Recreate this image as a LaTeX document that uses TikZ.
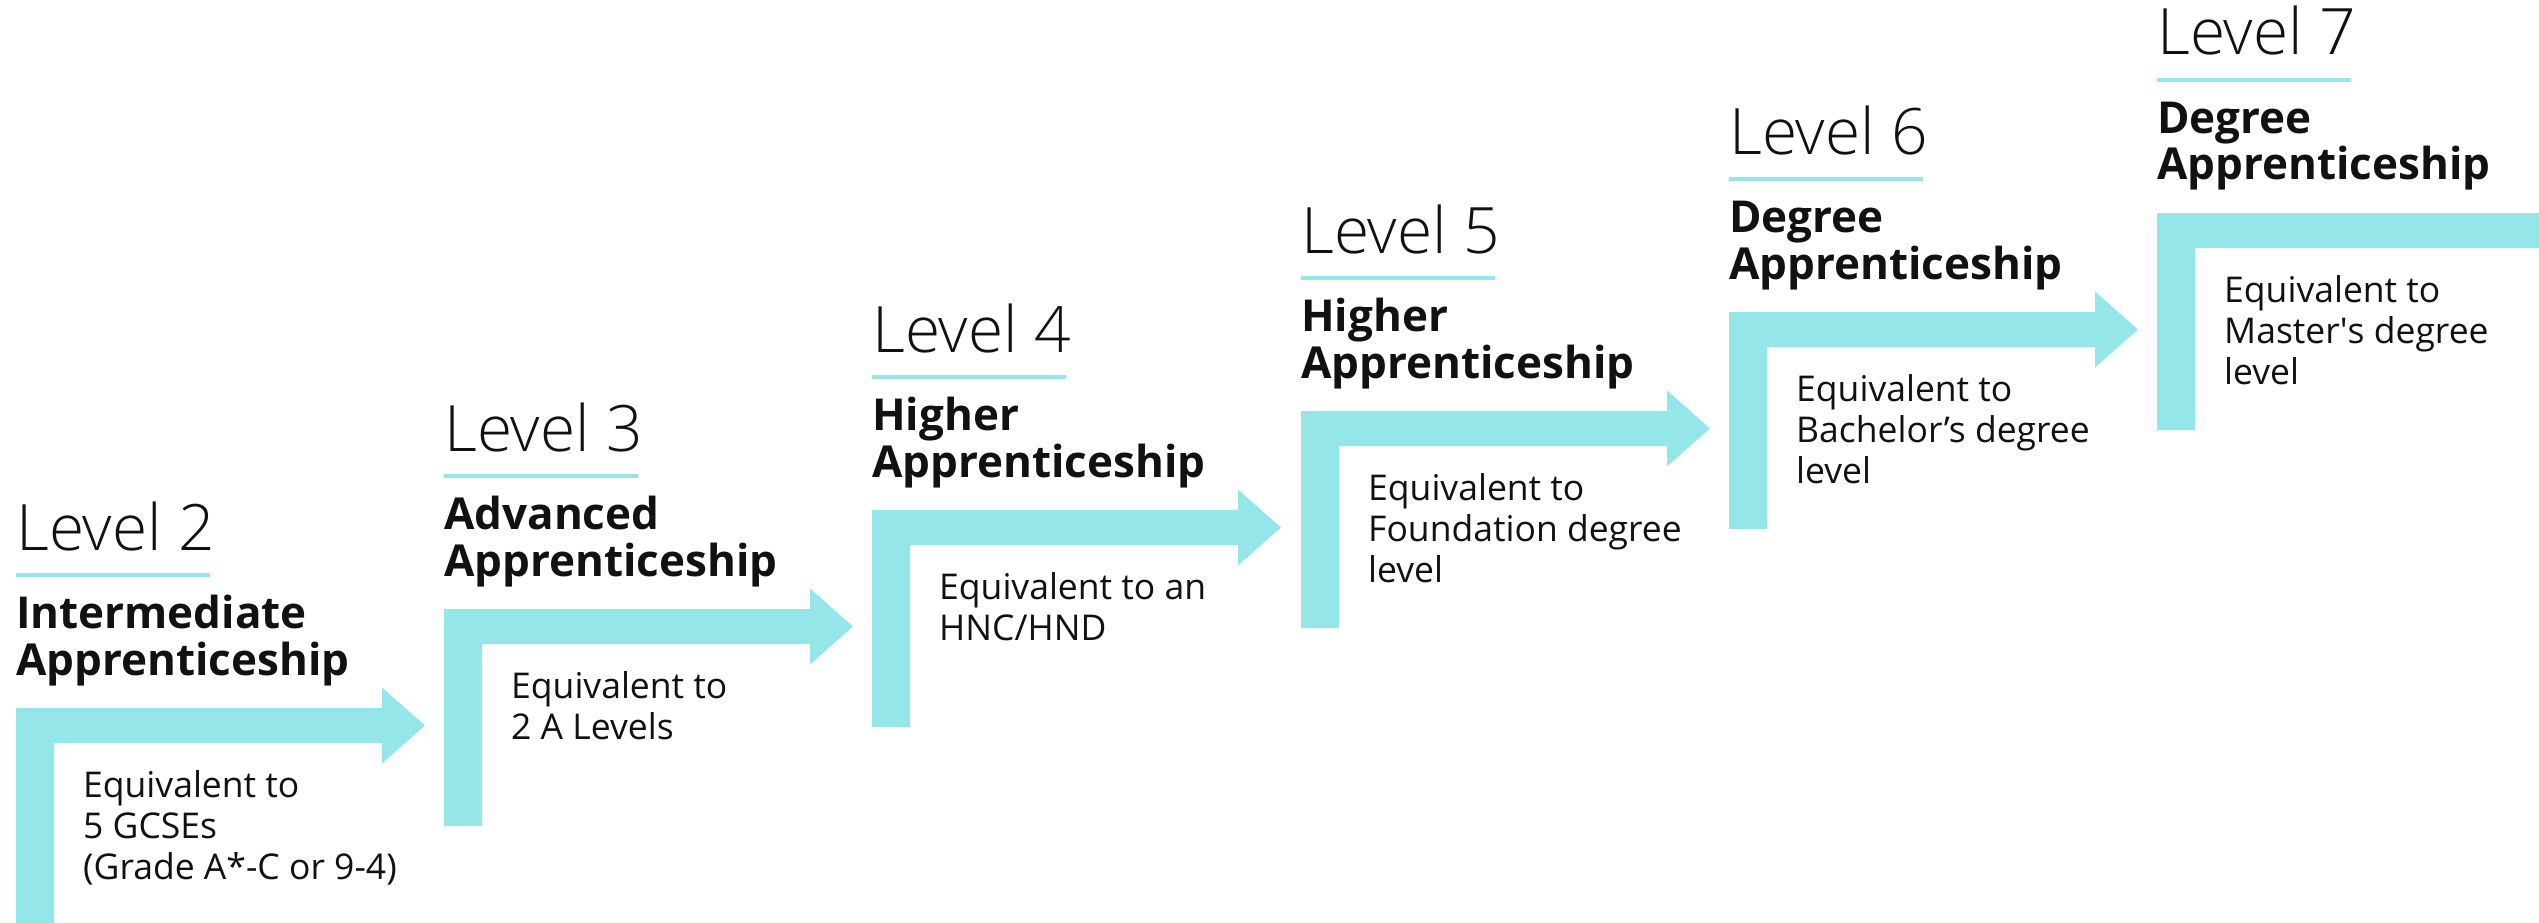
\documentclass[tikz,border=0pt]{standalone}
\usepackage{fontspec}
\setmainfont{Open Sans}
\newfontfamily\aposfont{Open Sans}
\IfFontExistsTF{Open Sans Light}
  {\newfontfamily\lightfont{Open Sans Light}}
  {\newfontfamily\lightfont{Open Sans}}
\definecolor{cy}{HTML}{95E6E9}
\definecolor{ink}{HTML}{111111}
\newcommand\stack[1]{\vtop{\halign{##\hfil\cr #1\crcr}}}
\tikzset{
  lvltxt/.style={anchor=base west, inner sep=0pt, text=ink, font=\lightfont\fontsize{64}{70}\selectfont},
  ttl/.style={anchor=base west, inner sep=0pt, text=ink, font=\fontsize{44}{47}\selectfont\bfseries},
  desc/.style={anchor=base west, inner sep=0pt, text=ink, font=\fontsize{35.5}{41}\selectfont},
  band/.style={fill=cy, draw=none}
}
\newcommand\lvl[6]{%
  \node[lvltxt] (lv#1) at (#2, #3-158) {#4};
  \fill[cy] (#2, #3-135) rectangle (#2+194, #3-131);
  \node[ttl] (t#1) at (#2, #3-80) {\stack{#5}};
  \node[desc] (d#1) at (#2+67, #3+89) {\stack{#6}};
}
\newcommand\arr[3]{% id, x0, y0
  \fill[band] (#2, #3+217) -- (#2, #3) -- (#2+366, #3) -- (#2+366, #3-20.5)
    -- (#2+409, #3+17.5) -- (#2+366, #3+55.5) -- (#2+366, #3+35)
    -- (#2+38, #3+35) -- (#2+38, #3+217) -- cycle;
}
\begin{document}
\begin{tikzpicture}[x=1pt, y=-1pt]
\useasboundingbox (0,0) rectangle (2539,923);
% arrows
\fill[band] (16, 923) -- (16, 708) -- (382, 708) -- (382, 687.5)
    -- (425, 725.5) -- (382, 763.5) -- (382, 743)
    -- (54, 743) -- (54, 923) -- cycle;
\arr{3}{444}{609}
\arr{4}{872}{510}
\arr{5}{1301}{411}
\arr{6}{1729}{312}
\fill[band] (2157, 430) -- (2157, 213) -- (2539, 213) -- (2539, 248)
    -- (2195, 248) -- (2195, 430) -- cycle;
% texts
\lvl{2}{16}{708}{Level 2}{Intermediate\cr Apprenticeship}{Equivalent to\cr 5 GCSEs\cr (Grade A*-C or 9-4)}
\lvl{3}{444}{609}{Level 3}{Advanced\cr Apprenticeship}{Equivalent to\cr 2 A Levels}
\lvl{4}{872}{510}{Level 4}{Higher\cr Apprenticeship}{Equivalent to an\cr HNC/HND}
\lvl{5}{1301}{411}{Level 5}{Higher\cr Apprenticeship}{Equivalent to\cr Foundation degree\cr level}
\lvl{6}{1729}{312}{Level 6}{Degree\cr Apprenticeship}{Equivalent to\cr Bachelor’s degree\cr level}
\lvl{7}{2157}{213}{Level 7}{Degree\cr Apprenticeship}{Equivalent to\cr Master{\aposfont'}s degree\cr level}
\end{tikzpicture}
\end{document}
